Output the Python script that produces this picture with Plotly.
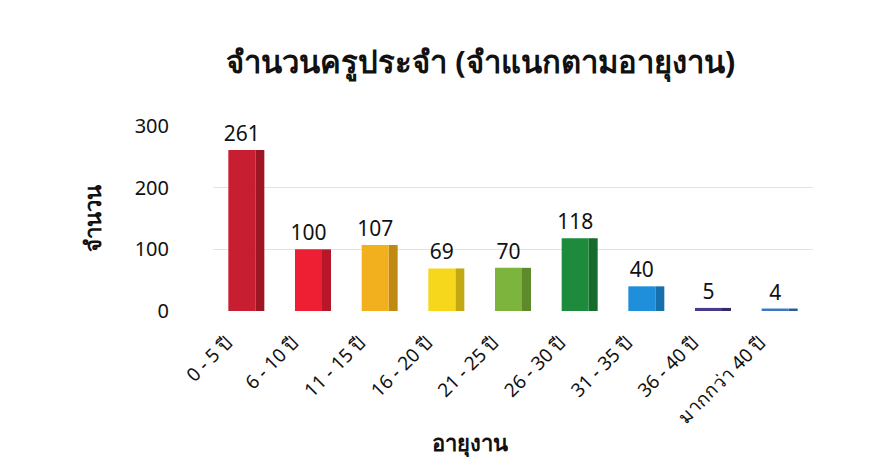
import plotly.graph_objects as go

CATEGORIES = ["0 - 5 ปี", "6 - 10 ปี", "11 - 15 ปี", "16 - 20 ปี", "21 - 25 ปี",
              "26 - 30 ปี", "31 - 35 ปี", "36 - 40 ปี", "มากกว่า 40 ปี"]
TEACHERS = [261, 100, 107, 69, 70, 118, 40, 5, 4]
COLORS = ["#C81E32", "#EE1F33", "#F2B01E", "#F6D71C", "#7DB43E",
          "#1E8A3C", "#1F8FDB", "#4A3A8A", "#3A78C6"]
# darker tones for the side face of each bar
SIDE_COLORS = ["#9E1524", "#B8172A", "#C08A12", "#C2A812", "#5E8A2C",
               "#156A2C", "#1770AE", "#36296A", "#2A5A98"]

FONT = "Noto Sans, DejaVu Sans, sans-serif"

fig = go.Figure()
fig.add_trace(go.Bar(
    x=CATEGORIES, y=TEACHERS,
    marker=dict(color=SIDE_COLORS, line=dict(width=0)),
    width=0.135, offset=0.135,
    hoverinfo="skip",
))
fig.add_trace(go.Bar(
    x=CATEGORIES, y=TEACHERS,
    marker=dict(color=COLORS, line=dict(width=0)),
    width=0.405, offset=-0.27,
    text=TEACHERS,
    textposition="outside",
    constraintext="none",
    textfont=dict(size=21, color="#111111"),
    cliponaxis=False,
))

fig.update_layout(
    width=872,
    height=470,
    barmode="overlay",
    margin=dict(l=205, r=67, t=118, b=167),
    paper_bgcolor="white",
    plot_bgcolor="white",
    font=dict(family=FONT, color="#111111"),
    showlegend=False,
    title=dict(text="<b>จำนวนครูประจำ (จำแนกตามอายุงาน)</b>", x=0.542, xanchor="center",
               y=0.885, yanchor="middle", font=dict(size=31)),
    annotations=[dict(text="<b>อายุงาน</b>", xref="paper", yref="paper", x=0.428, y=-0.71,
                      xanchor="center", yanchor="middle", showarrow=False, font=dict(size=22))],
)
fig.update_yaxes(
    range=[0, 300], tickvals=[0, 100, 200, 300], tickfont=dict(size=20),
    showgrid=True, gridcolor="#E3E3E3", zeroline=False, ticks="", ticklabelstandoff=43,
    title=dict(text="<b>จำนวน</b>", font=dict(size=22), standoff=26),
)
fig.update_xaxes(
    tickangle=-45, tickfont=dict(size=19), showline=False, ticks="",
    ticklabelshift=-20, ticklabelstandoff=16,
)

fig.write_html("out.html")
